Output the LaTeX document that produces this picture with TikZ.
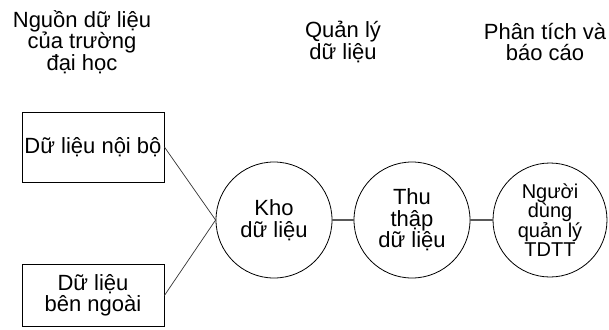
\documentclass[tikz,border=0pt]{standalone}
\usepackage{fontspec}
\setmainfont{Liberation Sans}
\usepackage{tikz}

\tikzset{
  heading/.style={align=center, font=\fontsize{22}{21.5}\selectfont},
  srcbox/.style={draw, line width=0.8pt, align=center,
    font=\fontsize{22}{21.5}\selectfont, inner sep=0pt},
  stage/.style={draw, circle, line width=0.8pt, align=center,
    inner sep=0pt, minimum size=116pt, font=\fontsize{22}{21.5}\selectfont},
  link/.style={line width=0.7pt, black!80},
  chain/.style={line width=1.6pt, black!65}
}

\begin{document}
\begin{tikzpicture}[x=1pt, y=-1pt]
    \path [use as bounding box]
      (0, 0) rectangle (609, 329);

    % column headings
    \node[heading] (nguon) at (82, 42) {Nguồn dữ liệu\\của trường\\đại học};
    \node[heading] (quanly) at (343, 42) {Quản lý\\dữ liệu};
    \node[heading] (phantich) at (545, 42) {Phân tích và\\báo cáo};

    % data sources
    \node[srcbox, minimum width=142, minimum height=70] (noibo) at (93, 147)
      {Dữ liệu nội bộ};
    \node[srcbox, minimum width=142, minimum height=62] (ngoai) at (93, 295.5)
      {Dữ liệu\\bên ngoài};

    % stages
    \node[stage] (kho) at (274, 220) {Kho\\dữ liệu};
    \node[stage] (thuthap) at (412, 220) {Thu\\thập\\dữ liệu};
    \node[stage, minimum size=114pt,
      font=\fontsize{20}{19}\selectfont] (nguoidung) at (550, 220)
      {Người\\dùng\\quản lý\\TDTT};

    \draw[link] (noibo.east) -- (kho.west);
    \draw[link] (ngoai.east) -- (kho.west);
    \draw[chain] (kho) -- (thuthap);
    \draw[chain] (thuthap) -- (nguoidung);

\end{tikzpicture}
\end{document}
